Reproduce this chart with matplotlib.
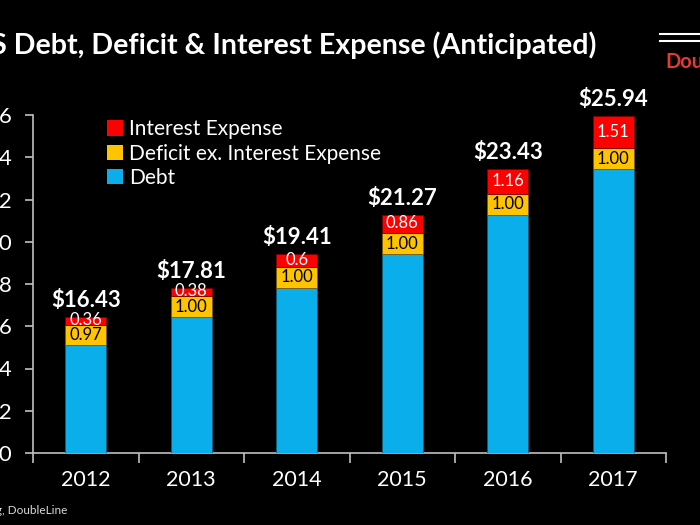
import matplotlib
matplotlib.use("Agg")
import matplotlib.pyplot as plt
from matplotlib.lines import Line2D
from matplotlib.patches import Patch

plt.rcParams['font.family'] = ['Lato', 'DejaVu Sans']

years = ["2012", "2013", "2014", "2015", "2016", "2017"]
debt = [15.10, 16.43, 17.81, 19.41, 21.27, 23.43]
deficit = [0.97, 1.00, 1.00, 1.00, 1.00, 1.00]
interest = [0.36, 0.38, 0.60, 0.86, 1.16, 1.51]
totals = ["$16.43", "$17.81", "$19.41", "$21.27", "$23.43", "$25.94"]
deficit_labels = ["0.97", "1.00", "1.00", "1.00", "1.00", "1.00"]
interest_labels = ["0.36", "0.38", "0.6", "0.86", "1.16", "1.51"]
yticks = [10, 12, 14, 16, 18, 20, 22, 24, 26]

BLUE = "#0AAEEA"
YELLOW = "#FFC400"
RED = "#FF0000"

fig = plt.figure(figsize=(7, 5.25), dpi=100, facecolor="black")
ax = fig.add_axes([33/700, 1-453/525, (666-33)/700, (453-115)/525])
ax.set_facecolor("black")

x = list(range(len(years)))
w = 0.39
base = 10
debt_h = [d - base for d in debt]
ax.bar(x, debt_h, w, bottom=base, color=BLUE, edgecolor="#0a5a7a", linewidth=0.6, zorder=3)
b2 = [d for d in debt]
ax.bar(x, deficit, w, bottom=b2, color=YELLOW, edgecolor="#7a5a00", linewidth=0.6, zorder=3)
b3 = [d + f for d, f in zip(debt, deficit)]
ax.bar(x, interest, w, bottom=b3, color=RED, edgecolor="#7a0000", linewidth=0.6, zorder=3)

for i in x:
    ax.text(i, debt[i] + deficit[i] / 2, deficit_labels[i], ha="center", va="center",
            color="black", fontsize=12, zorder=4)
    ax.text(i, b3[i] + interest[i] / 2 + 0.03, interest_labels[i], ha="center", va="center",
            color="white", fontsize=12, zorder=5)
    top = b3[i] + interest[i]
    ax.text(i, top + 0.3, totals[i], ha="center", va="bottom", color="white",
            fontsize=16, fontweight="bold", zorder=4, clip_on=False)

ax.set_xlim(-0.5, 5.5)
ax.set_ylim(10, 26)
ax.set_yticks(yticks)
ax.set_yticklabels([str(t) for t in yticks])
ax.set_xticks([i - 0.5 for i in range(len(years) + 1)])
ax.set_xticklabels([])
ax.set_xticks(x, minor=True)
ax.set_xticklabels(years, minor=True)

for s in ["top", "right"]:
    ax.spines[s].set_visible(False)
for s in ["left", "bottom"]:
    ax.spines[s].set_color("#bfbfbf")
    ax.spines[s].set_linewidth(1.2)
ax.tick_params(axis="y", colors="#bfbfbf", labelcolor="white", length=6, width=1.2,
               labelsize=16, pad=9)
ax.tick_params(axis="x", which="major", colors="#bfbfbf", length=7, width=1.2)
ax.tick_params(axis="x", which="minor", length=0, labelcolor="white", labelsize=15.5, pad=12)

handles = [Patch(facecolor=RED), Patch(facecolor=YELLOW), Patch(facecolor=BLUE)]
labels = ["Interest Expense", "Deficit ex. Interest Expense", "Debt"]
fig.legend(handles, labels, loc="upper left", bbox_to_anchor=(99/700, 1-111/525),
           frameon=False, labelcolor="white", fontsize=15, handlelength=0.75,
           handleheight=0.75, handletextpad=0.3, labelspacing=0.2, borderaxespad=0)

fig.text(596/700, 1-45/525, "US Debt, Deficit & Interest Expense (Anticipated)",
         ha="right", va="center", color="white", fontsize=20.6, fontweight="bold")
fig.text(665/700, 1-62/525, "DoubleLine", ha="left", va="center", color="#E53935",
         fontsize=14.5, fontweight="bold")
fig.add_artist(Line2D([660/700, 1.0], [1-34/525, 1-34/525], color="white", lw=1.5))
fig.add_artist(Line2D([660/700, 1.0], [1-41/525, 1-41/525], color="white", lw=1.5))
fig.text(67/700, 1-510/525, "Source: Bloomberg, DoubleLine", ha="right", va="center",
         color="#d9d9d9", fontsize=8.5)

fig.savefig("out.png", facecolor="black")
